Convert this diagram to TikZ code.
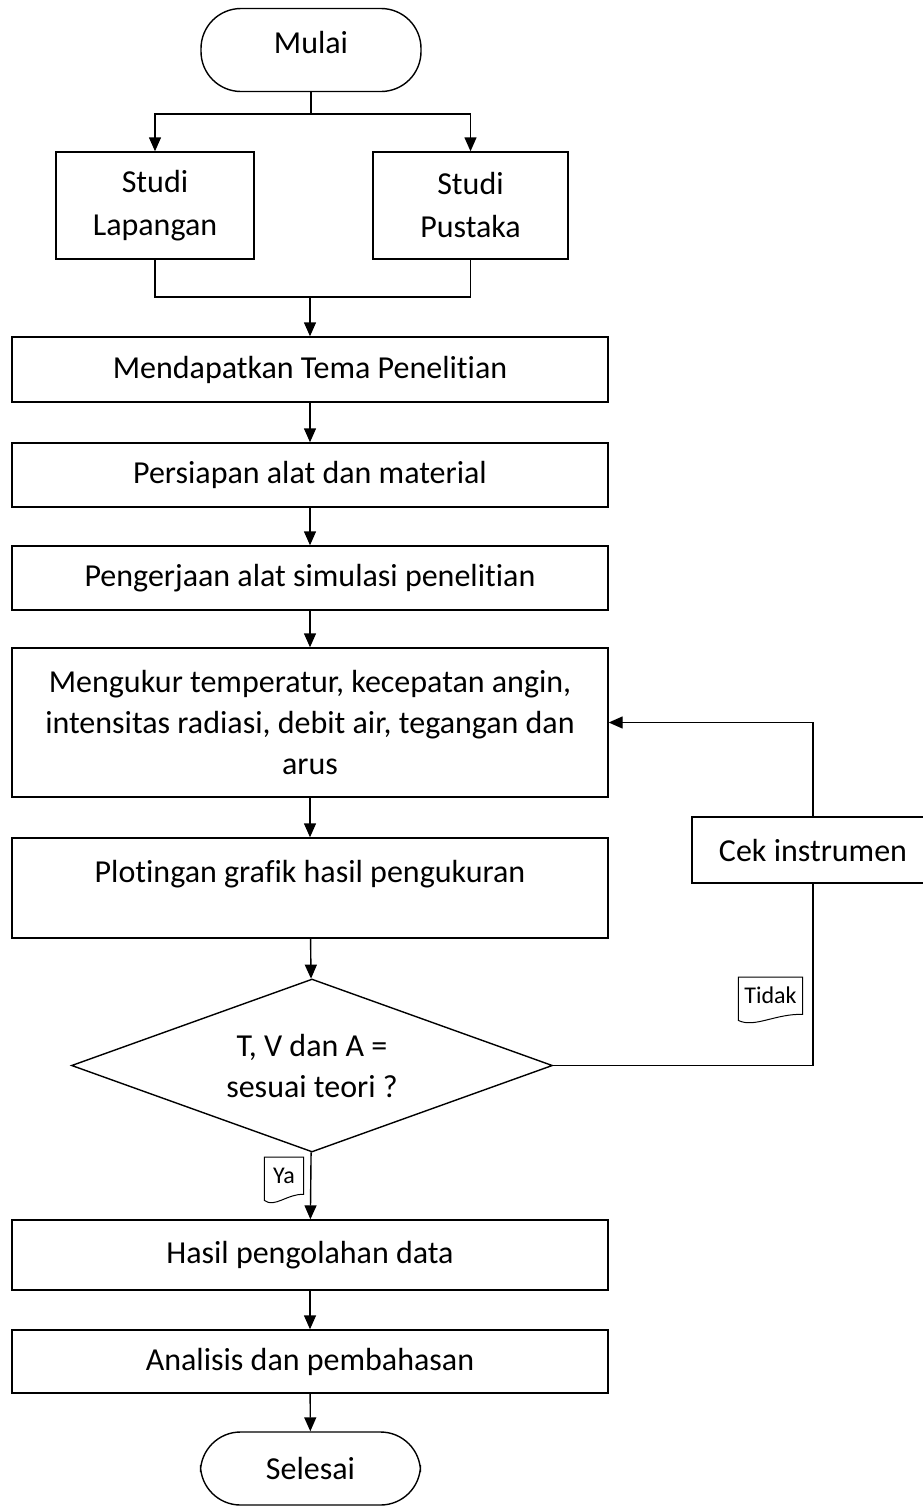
\documentclass[tikz,border=0pt]{standalone}
\usepackage{fontspec}
\setmainfont{Carlito}[Ligatures=NoCommon]
\usetikzlibrary{shapes.geometric, arrows.meta}

\begin{document}
\begin{tikzpicture}[x=1pt, y=-1pt, line width=1.4pt,
  every node/.style={font=\fontsize{32}{41}\selectfont, inner sep=0pt},
  box/.style={draw, rectangle, minimum width=596pt, align=center},
  term/.style={draw, rectangle, rounded corners=40pt, minimum width=220pt},
  decision/.style={draw, diamond, aspect=2.8, minimum width=481pt, minimum height=173pt, align=center},
  flow/.style={-{Triangle[length=14pt, width=12pt]}},
  tag/.style={font=\fontsize{24}{26}\selectfont, minimum height=36pt},
  tagline/.style={line width=1pt}]

  \useasboundingbox (0,0) rectangle (922,1508);

  \node[term, minimum height=83pt, text height=22pt, text depth=16pt] (mulai) at (311,50) {Mulai};

  \node[box, minimum width=198pt, minimum height=107pt] (studi_lap) at (155,205.5) {Studi\\[2pt]Lapangan};
  \node[box, minimum width=195pt, minimum height=107pt] (studi_pus) at (470.5,205.5) {Studi\\[2pt]Pustaka};

  \node[box, minimum height=65pt] (tema) at (310,369.5) {Mendapatkan Tema Penelitian};
  \node[box, minimum height=64pt] (persiapan) at (310,475) {Persiapan alat dan material};
  \node[box, minimum height=64pt] (pengerjaan) at (310,578) {Pengerjaan alat simulasi penelitian};
  \node[box, minimum height=149pt] (ukur) at (310,722.5) {Mengukur temperatur, kecepatan angin,\\intensitas radiasi, debit air, tegangan dan\\arus};
  \node[box, minimum height=100pt, text height=22pt, text depth=34pt] (plot) at (310,888) {Plotingan grafik hasil pengukuran};
  \node[decision] (dec) at (312,1065.5) {T, V dan A =\\sesuai teori ?};
  \node[box, minimum height=70pt] (hasil) at (310,1255) {Hasil pengolahan data};
  \node[box, minimum height=63pt] (analisis) at (310,1361.5) {Analisis dan pembahasan};
  \node[term, minimum height=73pt] (selesai) at (310.5,1468.5) {Selesai};

  \node[box, minimum width=242pt, minimum height=66pt] (cek) at (813,850) {Cek instrumen};

  % percabangan studi
  \coordinate (fork) at (311,114);
  \coordinate (join) at (310,297);
  \draw (mulai.south) -- (fork);
  \draw[flow] (fork) -| (studi_lap);
  \draw[flow] (fork) -| (studi_pus);
  \draw (studi_lap.south) |- (join) -| (studi_pus.south);
  \draw[flow] (join) -- (tema);

  \foreach \a/\b in {tema/persiapan, persiapan/pengerjaan, pengerjaan/ukur, ukur/plot, plot/dec, dec/hasil, hasil/analisis, analisis/selesai}
    \draw[flow] (\a) -- (\b);

  % jalur tidak
  \draw (dec.east) -| (cek.south);
  \draw[flow] (cek.north) |- (ukur.east);

  \node[tag, minimum width=63pt, anchor=north] (tidak) at (770.5,977) {Tidak};
  \draw[tagline] (tidak.north west) -- (tidak.north east) -- (tidak.south east)
    .. controls +(-27,-1) and +(16,8) .. ([yshift=-6pt]tidak.south west) -- cycle;

  \node[tag, minimum width=38pt, anchor=north] (ya) at (284,1157) {Ya};
  \draw[tagline] (ya.north west) -- (ya.north east) -- (ya.south east)
    .. controls +(-16,-1) and +(10,8) .. ([yshift=-6pt]ya.south west) -- cycle;

\end{tikzpicture}
\end{document}
